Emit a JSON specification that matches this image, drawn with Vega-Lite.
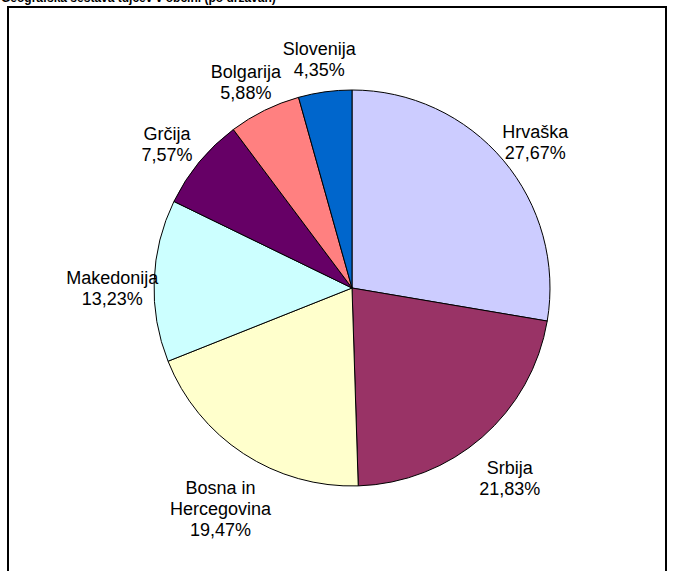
{
  "$schema": "https://vega.github.io/schema/vega-lite/v6.json",
  "width": 658,
  "height": 570,
  "autosize": {"type": "none"},
  "padding": {"left": 8, "top": 7, "right": 7, "bottom": 0},
  "background": "white",
  "view": {"stroke": "black", "strokeWidth": 2, "fill": "white"},
  "title": {
    "text": "Geografska sestava tujcev v občini (po državah)",
    "anchor": "start",
    "font": "Liberation Sans",
    "fontSize": 12,
    "fontWeight": "bold",
    "color": "black",
    "offset": 2,
    "dx": -7
  },
  "config": {
    "view": {"stroke": "black", "strokeWidth": 2},
    "legend": {"disable": true}
  },
  "data": {
    "values": [
      {"country": "Hrvaška", "percent": 27.67, "order": 1, "label": "Hrvaška\n27,67%"},
      {"country": "Srbija", "percent": 21.83, "order": 2, "label": "Srbija\n21,83%"},
      {"country": "Bosna in Hercegovina", "percent": 19.47, "order": 3, "label": "Bosna in\nHercegovina\n19,47%"},
      {"country": "Makedonija", "percent": 13.23, "order": 4, "label": "Makedonija\n13,23%"},
      {"country": "Grčija", "percent": 7.57, "order": 5, "label": "Grčija\n7,57%"},
      {"country": "Bolgarija", "percent": 5.88, "order": 6, "label": "Bolgarija\n5,88%"},
      {"country": "Slovenija", "percent": 4.35, "order": 7, "label": "Slovenija\n4,35%"}
    ]
  },
  "encoding": {
    "theta": {"field": "percent", "type": "quantitative", "stack": true},
    "order": {"field": "order", "type": "quantitative"},
    "color": {
      "field": "country",
      "type": "nominal",
      "scale": {
        "domain": ["Hrvaška", "Srbija", "Bosna in Hercegovina", "Makedonija", "Grčija", "Bolgarija", "Slovenija"],
        "range": ["#CCCCFF", "#993366", "#FFFFCC", "#CCFFFF", "#660066", "#FF8080", "#0066CC"]
      },
      "legend": null
    }
  },
  "layer": [
    {
      "mark": {"type": "arc", "outerRadius": 198, "stroke": "black", "strokeWidth": 1, "xOffset": 15, "yOffset": -4}
    },
    {
      "mark": {
        "type": "text",
        "radius": 240,
        "xOffset": 15,
        "yOffset": -4,
        "font": "Liberation Sans",
        "fontSize": 18,
        "lineHeight": 21,
        "lineBreak": "\n",
        "align": "center",
        "baseline": "middle",
        "color": "black"
      },
      "encoding": {
        "text": {"field": "label"},
        "color": {"value": "black"}
      }
    }
  ]
}
